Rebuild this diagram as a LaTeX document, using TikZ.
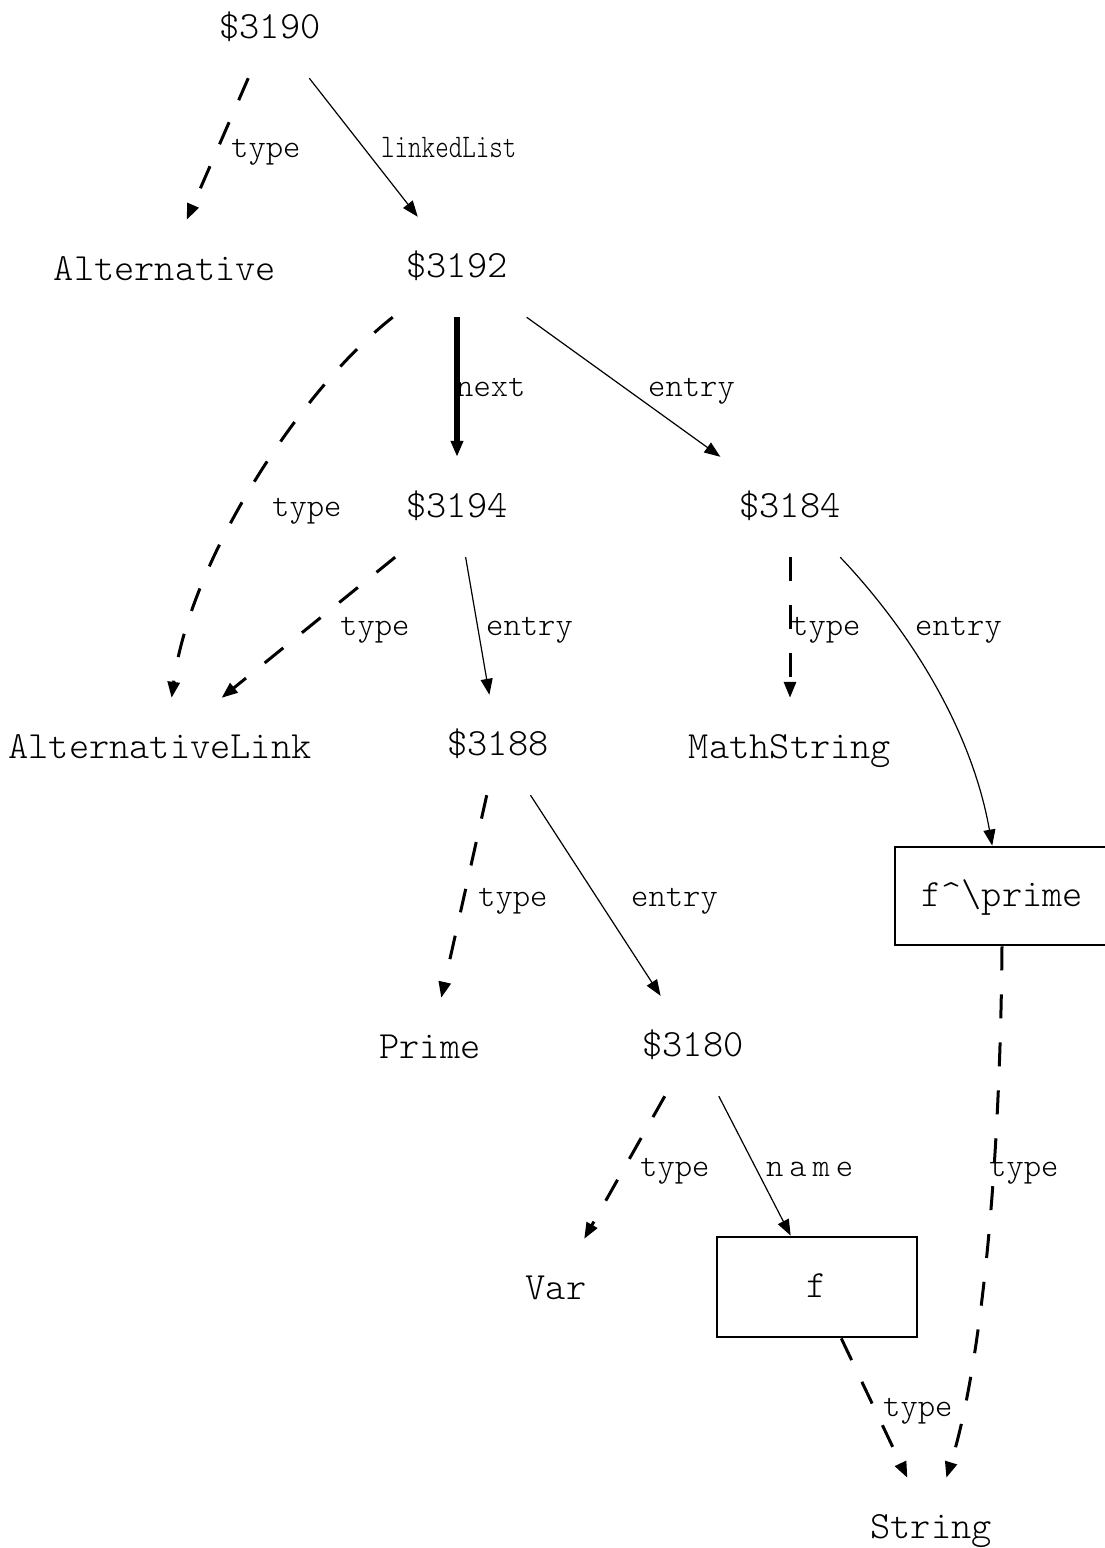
\documentclass[tikz,border=0pt]{standalone}
\usepackage{fontspec}
\newfontfamily\lighttt{lmmonolt10-regular}[Extension=.otf]
\newfontfamily\spacedtt{lmmonolt10-regular}[Extension=.otf,LetterSpace=18]
\usetikzlibrary{arrows.meta}
\newcommand{\nodefnt}{\lighttt\fontsize{38.5}{40}\selectfont}
\newcommand{\lblfnt}{\lighttt\fontsize{33}{35}\selectfont}
\tikzset{
  obj/.style={rectangle, minimum width=200pt, minimum height=100pt, inner sep=0pt,
    text height=26pt, text depth=6pt, font=\nodefnt},
  boxed/.style={obj, draw, line width=2.8pt},
  lbl/.style={inner sep=0pt, anchor=base west, font=\lblfnt},
  tip/.style={-{Triangle[length=16pt,width=12pt]}},
  rel/.style={tip, line width=1.2pt},
  typ/.style={tip, line width=3pt, dash pattern=on 24pt off 24pt},
  nxt/.style={tip, line width=5.5pt},
}
\begin{document}
\begin{tikzpicture}[x=1pt,y=-1pt]
\useasboundingbox (0,0) rectangle (1105,1548);
\fill[white] (0,0) rectangle (1105,1548);
% nodes
\node[obj] (n3190) at (270,28) {\$3190};
\node[obj] (alt) at (165,270) {Alternative};
\node[obj] (n3192) at (457,267) {\$3192};
\node[obj] (n3194) at (457,507) {\$3194};
\node[obj] (n3184) at (790,507) {\$3184};
\node[obj] (altlink) at (160,748) {AlternativeLink};
\node[obj] (n3188) at (498,745) {\$3188};
\node[obj] (mathstr) at (790,748) {MathString};
\node[boxed, minimum width=214pt, minimum height=98pt] (fp) at (1002,896) {f\textasciicircum\textbackslash prime};
\node[obj] (prime) at (430,1048) {Prime};
\node[obj] (n3180) at (693,1046) {\$3180};
\node[obj] (var) at (556,1289) {Var};
\node[boxed] (fbox) at (817,1287) {f};
\node[obj] (string) at (931,1528) {String};
% connectors
\draw[typ] (n3190) -- (alt);
\draw[rel] (n3190) -- (n3192);
\draw[typ] (n3192.218) .. controls (300,390) and (190,560) .. (altlink.77);
\draw[nxt] (n3192) -- (n3194);
\draw[rel] (n3192) -- (n3184);
\draw[typ] (n3194) -- (altlink);
\draw[rel] (n3194) -- (n3188);
\draw[typ] (n3184) -- (mathstr);
\draw[rel] (n3184.-45) .. controls (900,620) and (970,720) .. (fp.101);
\draw[typ] (n3188) -- (prime);
\draw[rel] (n3188) -- (n3180);
\draw[typ] (n3180) -- (var);
\draw[rel] (n3180) -- (fbox);
\draw[typ] (fbox) -- (string);
\draw[typ] (fp.south) .. controls (1000,1180) and (980,1370) .. (string.73);
% labels
\node[lbl] (l1) at (231,157) {type};
\node[lbl] (l2) at (381,157) {\scalebox{0.78}[1]{linkedList}};
\node[lbl] (l3) at (272,516) {type};
\node[lbl] (l4) at (456,396) {next};
\node[lbl] (l5) at (648,396) {entry};
\node[lbl] (l6) at (340,635) {type};
\node[lbl] (l7) at (486,635) {entry};
\node[lbl] (l8) at (791,635) {type};
\node[lbl] (l9) at (915,635) {entry};
\node[lbl] (l10) at (478,906) {type};
\node[lbl] (l11) at (631,906) {entry};
\node[lbl] (l12) at (640,1176) {type};
\node[lbl, font=\spacedtt\fontsize{33}{35}\selectfont] (l13) at (766,1176) {name};
\node[lbl] (l14) at (883,1416) {type};
\node[lbl] (l15) at (989,1176) {type};
\end{tikzpicture}
\end{document}
